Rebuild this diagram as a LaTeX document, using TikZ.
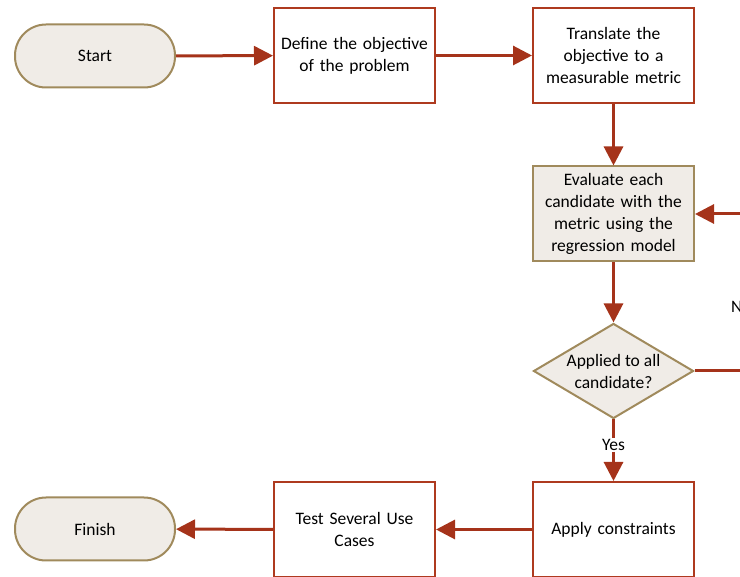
\documentclass[tikz,border=0pt]{standalone}
\usepackage{fontspec}
\setmainfont{Carlito}
\usetikzlibrary{arrows.meta,shapes.geometric}
\definecolor{redb}{HTML}{AE3A1F}
\definecolor{arr}{HTML}{A5331A}
\definecolor{tanb}{HTML}{A08A5C}
\definecolor{tanf}{HTML}{F0ECE7}
\tikzset{
  txt/.style={font=\fontsize{17.5}{22}\selectfont},
  procbox/.style={txt, draw=redb, line width=2pt, fill=white, minimum width=161pt, minimum height=95pt, text width=156pt, align=center, inner sep=0pt},
  evalbox/.style={procbox, draw=tanb, fill=tanf},
  term/.style={txt, draw=tanb, line width=2pt, fill=tanf, rounded corners=31pt, minimum width=160pt, minimum height=63pt},
  decision/.style={txt, diamond, aspect=1.68, draw=tanb, line width=2pt, fill=tanf, minimum width=160pt, minimum height=95pt, inner sep=0pt, align=center},
  conn/.style={draw=arr, line width=3pt, -{Triangle[length=19pt,width=19pt]}},
  lbl/.style={txt, inner sep=0pt}
}
\begin{document}
\begin{tikzpicture}[x=1pt,y=-1pt]
\useasboundingbox (0,0) rectangle (740,577);
\clip (0,0) rectangle (740,577);
\node[term] (start) at (95,56) {Start};
\node[procbox] (define) at (354.5,55.5) {Define the objective\\of the problem};
\node[procbox] (translate) at (613.5,55.5) {Translate the\\objective to a\\measurable metric};
\node[evalbox] (eval) at (613.5,214) {Evaluate each\\candidate with the\\metric using the\\regression model};
\node[decision] (dec) at (613.5,371) {Applied to all\\candidate?};
\node[procbox] (apply) at (613.5,529.5) {Apply constraints};
\node[procbox] (test) at (354.5,529.5) {Test Several Use\\Cases};
\node[term] (finish) at (95,529) {Finish};
\coordinate (c1) at (760,371);
\coordinate (c2) at (760,214);
\node[lbl, anchor=west] (no) at (731,307) {No};
\node[lbl, fill=white, inner sep=1pt] (yes) at (613.5,445) {Yes};
\draw[conn] (start) -- (define);
\draw[conn] (define) -- (translate);
\draw[conn] (translate) -- (eval);
\draw[conn] (eval) -- (dec);
\draw[draw=arr, line width=3pt] (dec.south) -- (yes.north);
\draw[conn] (yes.south) -- (apply);
\draw[conn] (dec.east) -- (c1) -- (c2) -- (eval.east);
\draw[conn] (apply) -- (test);
\draw[conn] (test) -- (finish);
\end{tikzpicture}
\end{document}
